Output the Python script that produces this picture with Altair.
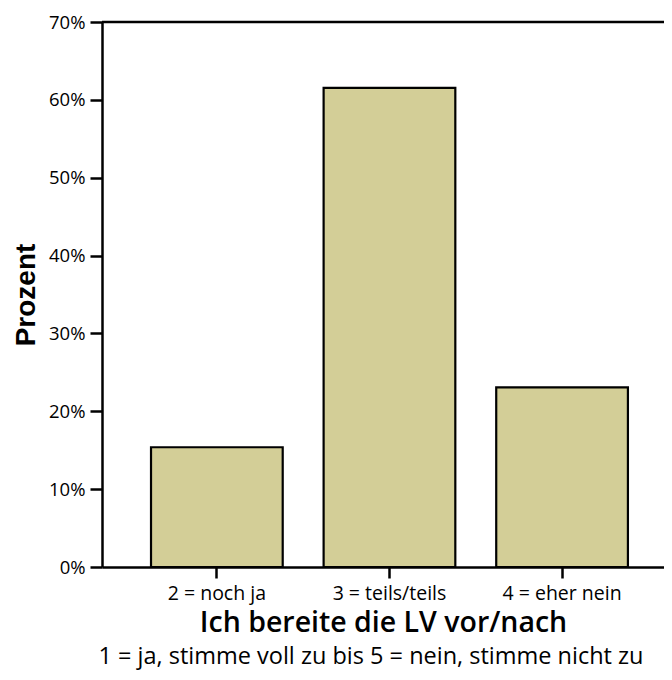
import altair as alt
import pandas as pd

categories = ["2 = noch ja", "3 = teils/teils", "4 = eher nein"]
percents = [15.38, 61.54, 23.08]
y_ticks = [0, 10, 20, 30, 40, 50, 60, 70]

df = pd.DataFrame({"cat": categories, "pct": percents})

W, H = 562, 545
FILL = "#D3CE97"

x_enc = alt.X(
    "cat:N",
    sort=categories,
    scale=alt.Scale(paddingInner=0.237, paddingOuter=0.2465, align=0.576),
    axis=alt.Axis(
        title="Ich bereite die LV vor/nach",
        titleFont="Open Sans",
        titleFontWeight=600,
        titleFontSize=28.5,
        titleColor="black",
        titleBaseline="alphabetic",
        titleY=64,
        labelFont="Open Sans",
        labelFontSize=19.5,
        labelColor="black",
        labelAngle=0,
        labelPadding=6,
        tickSize=11,
        tickWidth=2.5,
        tickColor="black",
        domainColor="black",
        domainWidth=2.5,
    ),
)

y_enc = alt.Y(
    "pct:Q",
    scale=alt.Scale(domain=[0, 70], nice=False),
    axis=alt.Axis(
        values=y_ticks,
        labelExpr="datum.value + '%'",
        title="Prozent",
        titleFont="Liberation Sans",
        titleFontWeight="bold",
        titleFontSize=28,
        titleColor="black",
        titleX=-68,
        titleBaseline="alphabetic",
        labelFont="Open Sans",
        labelFontSize=18.5,
        labelColor="black",
        labelPadding=5,
        tickSize=12,
        tickWidth=2.5,
        tickColor="black",
        domainColor="black",
        domainWidth=2.5,
        grid=False,
    ),
)

bars = alt.Chart(df).mark_bar(
    fill=FILL, stroke="black", strokeWidth=2.2
).encode(x=x_enc, y=y_enc)

top_line = alt.Chart(pd.DataFrame({"v": [70]})).mark_rule(
    color="black", strokeWidth=2.5
).encode(y="v:Q", x=alt.value(0), x2=alt.value(W))

chart = (
    alt.layer(bars, top_line)
    .properties(
        width=W,
        height=H,
        autosize=alt.AutoSizeParams(type="none"),
        padding={"left": 94, "top": 14, "right": 0, "bottom": 105},
        title=alt.Title(
            "1 = ja, stimme voll zu bis 5 = nein, stimme nicht zu",
            orient="bottom",
            font="Open Sans",
            fontSize=23.5,
            fontWeight="normal",
            color="black",
            offset=8,
            dx=-12,
        ),
    )
    .configure_view(stroke=None)
    .configure(background="white")
)

chart.save("out.html", embed_options={"renderer": "svg", "actions": False})
